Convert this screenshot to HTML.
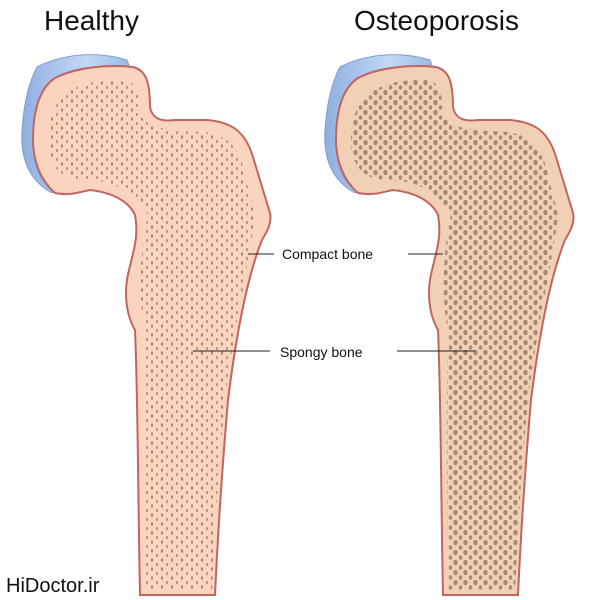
<!DOCTYPE html>
<html><head><style>
html,body{margin:0;padding:0;background:#fff;width:600px;height:600px;overflow:hidden}
svg{display:block}
text{font-family:"Liberation Sans",sans-serif}
</style></head><body>
<svg width="600" height="600" viewBox="0 0 600 600">
<defs>
<pattern id="p1" width="10" height="9" patternUnits="userSpaceOnUse">
<ellipse cx="2" cy="2" rx="0.9" ry="1.8" fill="#9a7868"/>
<ellipse cx="7" cy="6.5" rx="0.8" ry="1.5" fill="#9a7868"/>
</pattern>
<pattern id="p2" width="10" height="10" patternUnits="userSpaceOnUse">
<ellipse cx="2.5" cy="2.5" rx="2.2" ry="2.8" fill="#a88a72"/>
<ellipse cx="7.5" cy="7.5" rx="1.8" ry="2.3" fill="#a88a72"/>
</pattern>
<linearGradient id="cg" x1="0" y1="0" x2="1" y2="0">
<stop offset="0" stop-color="#8faee0"/><stop offset="0.6" stop-color="#c4d8f4"/><stop offset="1" stop-color="#9ab8e4"/>
</linearGradient>
<path id="bone" d="M133,67 C145,70 150,80 150,107 C152,118 160,122 175,120 L207,120 C230,122 245,130 253,157 L270,213 C272,222 268,230 262,240 C250,270 238,320 228,400 C222,470 218,530 215,595 L140,595 C138,500 138,400 135,330 C128,318 124,300 127,280 C130,260 140,240 135,215 C128,200 110,192 90,190 C80,192 70,196 55,193 C40,180 33,160 33,140 C33,110 40,88 55,78 C75,68 105,64 133,67 Z"/>
<path id="inner" d="M125,80 C138,82 140,100 140,115 C150,132 180,130 205,132 C230,136 240,150 245,175 L255,215 C250,260 235,320 225,400 C218,470 215,530 212,590 L145,590 C144,500 143,400 145,330 C138,300 140,250 148,215 C135,190 110,180 85,180 C60,180 48,165 48,140 C48,100 70,78 125,80 Z"/>
<clipPath id="c"><use href="#inner"/></clipPath>
<path id="cart" d="M37,67 C60,55 95,50 127,60 L130,68 C100,64 70,68 55,78 C40,88 33,110 33,140 C33,165 40,182 55,193 L50,192 C30,180 20,160 22,130 C24,100 30,80 37,67 Z"/>
</defs>
<text x="44" y="30" font-size="28" fill="#111">Healthy</text>
<text x="354" y="30" font-size="28" fill="#111">Osteoporosis</text>
<g>
<use href="#cart" fill="url(#cg)" stroke="#7f9fd0" stroke-width="1"/>
<use href="#bone" fill="#fad4bf" stroke="#c06660" stroke-width="2"/>
<rect x="40" y="70" width="230" height="530" fill="url(#p1)" clip-path="url(#c)"/>
</g>
<g transform="translate(303,0)">
<use href="#cart" fill="url(#cg)" stroke="#7f9fd0" stroke-width="1"/>
<use href="#bone" fill="#f2d0b6" stroke="#c06660" stroke-width="2"/>
<rect x="40" y="70" width="230" height="530" fill="url(#p2)" clip-path="url(#c)"/>
</g>
<g stroke="#222" stroke-width="1">
<line x1="248" y1="254" x2="274" y2="254"/>
<line x1="408" y1="254" x2="443" y2="254"/>
<line x1="193" y1="351" x2="270" y2="351"/>
<line x1="397" y1="351" x2="475" y2="351"/>
</g>
<text x="282" y="259" font-size="14" fill="#111">Compact bone</text>
<text x="280" y="357" font-size="14" fill="#111">Spongy bone</text>
<text x="6" y="592" font-size="20" fill="#111">HiDoctor.ir</text>
</svg>
</body></html>
